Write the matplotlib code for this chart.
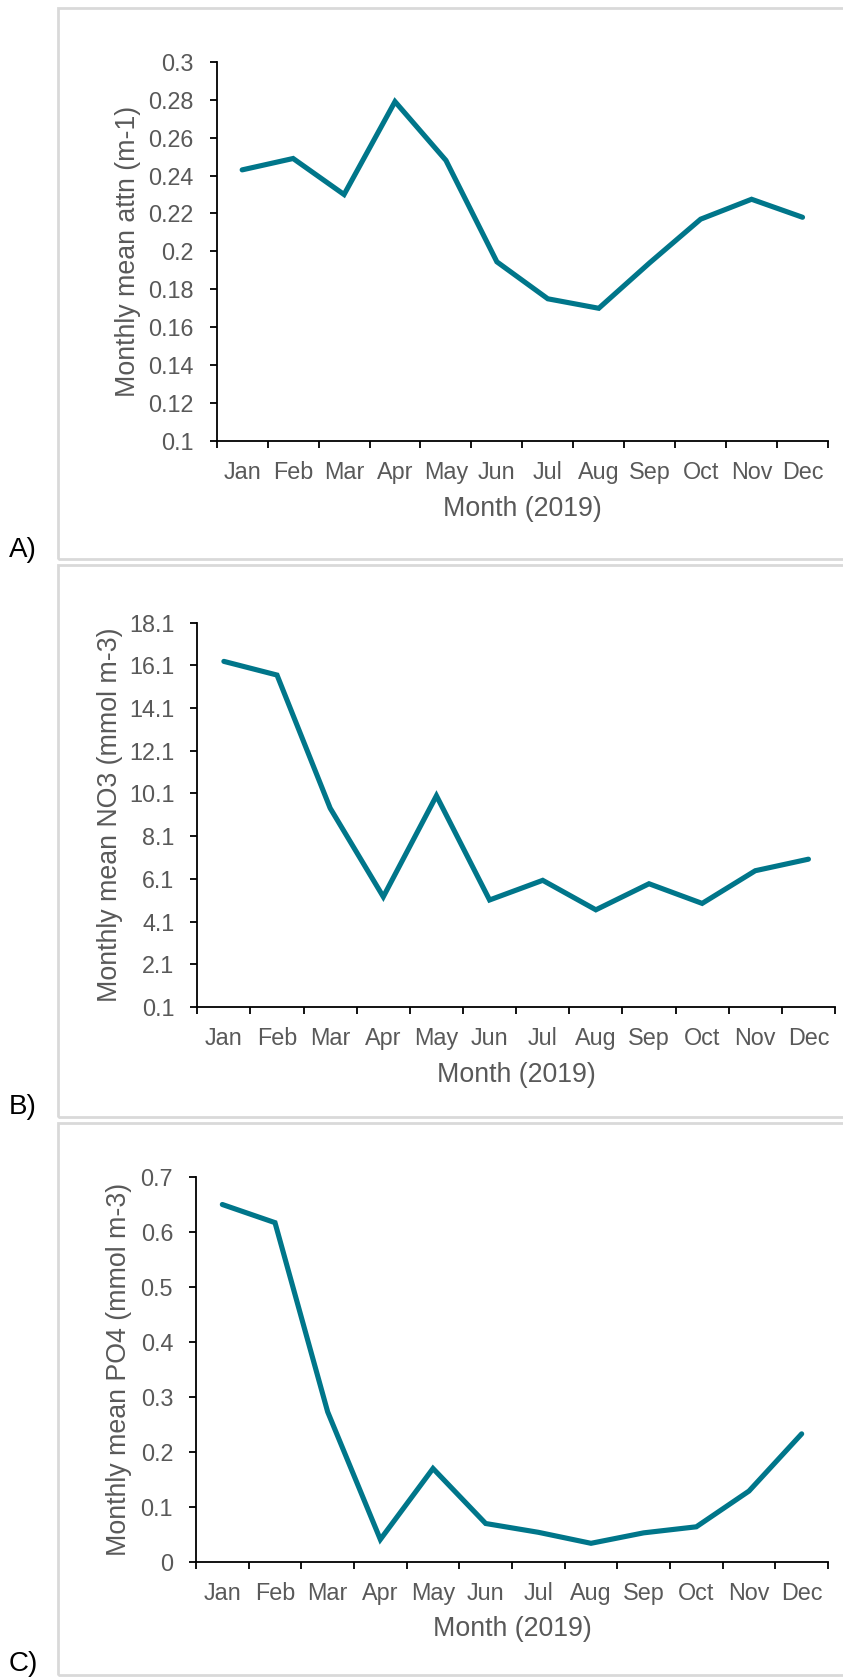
import matplotlib
matplotlib.use('Agg')
import matplotlib.pyplot as plt
import matplotlib.patches as mpatches
from matplotlib.ticker import FixedLocator, NullFormatter, FixedFormatter

plt.rcParams['font.family'] = ['Liberation Sans', 'DejaVu Sans']

months = ['Jan', 'Feb', 'Mar', 'Apr', 'May', 'Jun',
          'Jul', 'Aug', 'Sep', 'Oct', 'Nov', 'Dec']

attn = [0.243, 0.249, 0.230, 0.279, 0.248, 0.1945,
        0.175, 0.170, 0.194, 0.217, 0.2275, 0.218]
no3 = [16.28, 15.64, 9.41, 5.26, 9.99, 5.11,
       6.03, 4.65, 5.87, 4.95, 6.48, 7.02]
po4 = [0.650, 0.617, 0.273, 0.041, 0.170, 0.070,
       0.054, 0.034, 0.053, 0.064, 0.129, 0.233]

attn_ticks = [0.1, 0.12, 0.14, 0.16, 0.18, 0.2, 0.22, 0.24, 0.26, 0.28, 0.3]
no3_ticks = [0.1, 2.1, 4.1, 6.1, 8.1, 10.1, 12.1, 14.1, 16.1, 18.1]
po4_ticks = [0, 0.1, 0.2, 0.3, 0.4, 0.5, 0.6, 0.7]

LINE = '#00768A'
TEXT = '#595959'
W, H = 843, 1678

fig = plt.figure(figsize=(W / 100, H / 100), dpi=100)


def px_rect(x0, y0, x1, y1):
    # pixel box (top-left origin) -> figure fraction [l, b, w, h]
    return [x0 / W, 1 - y1 / H, (x1 - x0) / W, (y1 - y0) / H]


panels = [
    # axes pixel box, frame top/bottom, values, ticks, ylabel, ylabel x, xlabel y, tag
    ((216.7, 61.8, 828, 441), (8, 559), attn, attn_ticks,
     'Monthly mean attn (m-1)', -0.124, -0.145, 'A)', 557),
    ((197.3, 622.5, 835, 1007), (565, 1117), no3, no3_ticks,
     'Monthly mean NO3 (mmol m-3)', -0.117, -0.1425, 'B)', 1114),
    ((196, 1177, 828, 1562), (1123, 1675), po4, po4_ticks,
     'Monthly mean PO4 (mmol m-3)', -0.102, -0.141, 'C)', 1671),
]

for box, frame, vals, yticks, ylab, ylx, xly, tag, tag_y in panels:
    # light grey frame around each panel
    fx0, fy0, fx1, fy1 = 58, frame[0], W + 5, frame[1]
    l, b, w, h = px_rect(fx0, fy0, fx1, fy1)
    fig.patches.append(mpatches.Rectangle((l, b), w, h, transform=fig.transFigure,
                                          fill=False, edgecolor='#D9D9D9', lw=2.0))
    fig.text(9 / W, 1 - tag_y / H, tag, fontsize=20, color='black',
             ha='left', va='baseline')

    ax = fig.add_axes(px_rect(*box))
    x = [i + 0.5 for i in range(len(months))]
    ax.plot(x, vals, color=LINE, lw=3.7, solid_joinstyle='miter', solid_capstyle='round')

    ax.set_xlim(0, 12)
    ax.set_ylim(yticks[0], yticks[-1])
    ax.xaxis.set_major_locator(FixedLocator(range(13)))
    ax.xaxis.set_major_formatter(NullFormatter())
    ax.xaxis.set_minor_locator(FixedLocator(x))
    ax.xaxis.set_minor_formatter(FixedFormatter(months))
    ax.tick_params(axis='x', which='major', length=5, width=1.3, direction='out')
    ax.tick_params(axis='x', which='minor', length=0, pad=14.5, labelsize=16.8,
                   labelcolor=TEXT)

    ax.set_yticks(yticks)
    ax.set_yticklabels([f'{round(v, 2):g}' for v in yticks])
    ax.tick_params(axis='y', length=5, width=1.3, direction='out', pad=11.5,
                   labelsize=16.8, labelcolor=TEXT)

    for side in ['top', 'right']:
        ax.spines[side].set_visible(False)
    for side in ['left', 'bottom']:
        ax.spines[side].set_linewidth(1.3)
        ax.spines[side].set_color('black')

    ax.set_ylabel(ylab, fontsize=19.3, color=TEXT)
    ax.yaxis.set_label_coords(ylx, 0.5)
    ax.set_xlabel('Month (2019)', fontsize=19.3, color=TEXT)
    ax.xaxis.set_label_coords(0.5, xly)

fig.savefig('out.png', dpi=100)
